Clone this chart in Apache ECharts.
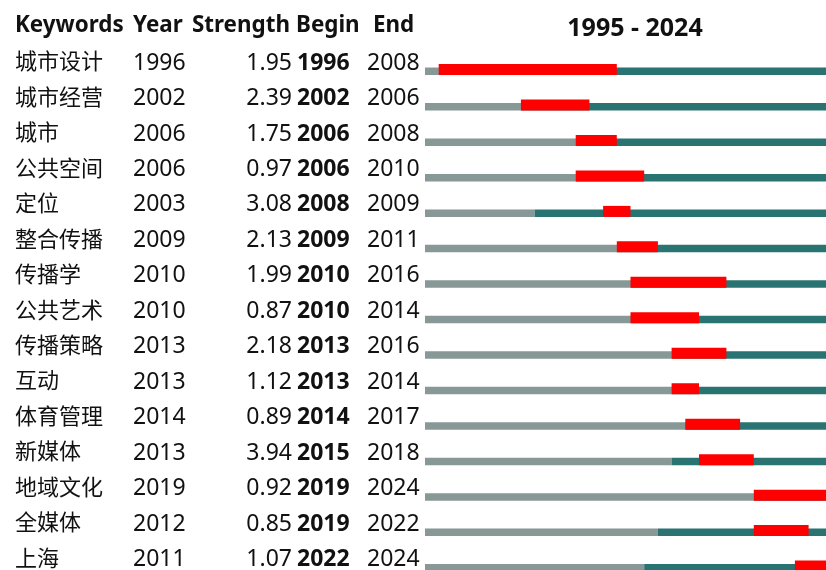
<!DOCTYPE html>
<html>
<head>
<meta charset="utf-8">
<script src="https://cdn.jsdelivr.net/npm/echarts@6/dist/echarts.min.js"></script>
<style>
html,body{margin:0;padding:0;background:#fff;overflow:hidden;}
#c{width:860px;height:600px;}
</style>
</head>
<body>
<div id="c"></div>
<script>
var keywords = ['城市设计','城市经营','城市','公共空间','定位','整合传播','传播学','公共艺术','传播策略','互动','体育管理','新媒体','地域文化','全媒体','上海'];
var years = [1996,2002,2006,2006,2003,2009,2010,2010,2013,2013,2014,2013,2019,2012,2011];
var strength = [1.95,2.39,1.75,0.97,3.08,2.13,1.99,0.87,2.18,1.12,0.89,3.94,0.92,0.85,1.07];
var begins = [1996,2002,2006,2006,2008,2009,2010,2010,2013,2013,2014,2015,2019,2019,2022];
var ends = [2008,2006,2008,2010,2009,2011,2016,2014,2016,2014,2017,2018,2024,2022,2024];
var headers = ['Keywords','Year','Strength','Begin','End'];
var rangeStart = 1995, rangeEnd = 2024;
var title = rangeStart + ' - ' + rangeEnd;

var FONT = '"Noto Sans", "Noto Sans CJK SC", sans-serif';
var TXT = '#111';
var GRAY = '#879896', TEAL = '#2a7373', RED = '#ff0000';

var rows = keywords.map(function (k, i) {
  return [i, years[i], begins[i], ends[i], strength[i]];
});

var chart = echarts.init(document.getElementById('c'), null, {renderer: 'canvas'});

function txt(x, y, s, align, bold, size) {
  return {
    type: 'text',
    style: {
      x: x, y: y, text: s, fill: TXT,
      font: (bold ? 'bold ' : '') + (size || 22) + 'px ' + FONT,
      textAlign: align, textVerticalAlign: 'middle'
    }
  };
}

var hdrFont = 'bold 22.4px ' + FONT;
var option = {
  animation: false,
  backgroundColor: '#fff',
  title: {
    text: title,
    left: 630, top: 11,
    textAlign: 'center',
    textStyle: {fontFamily: FONT, fontSize: 25, fontWeight: 'bold', color: TXT}
  },
  graphic: [
    {type: 'text', left: 15, top: 14, style: {text: headers[0], font: hdrFont, fill: TXT}},
    {type: 'text', left: 133, top: 14, style: {text: headers[1], font: hdrFont, fill: TXT}},
    {type: 'text', left: 192, top: 14, style: {text: headers[2], font: hdrFont, fill: TXT}},
    {type: 'text', left: 296, top: 14, style: {text: headers[3], font: hdrFont, fill: TXT}},
    {type: 'text', left: 373, top: 14, style: {text: headers[4], font: hdrFont, fill: TXT}}
  ],
  grid: {left: 425, top: 45.3, width: 411, height: 532, containLabel: false},
  xAxis: {type: 'value', min: rangeStart, max: rangeEnd + 1, show: false},
  yAxis: {type: 'category', data: keywords, inverse: true, show: false},
  series: [
    {
      type: 'custom',
      clip: false,
      data: rows,
      encode: {x: 1, y: 0},
      renderItem: function (params, api) {
        var i = api.value(0);
        var first = api.value(1), b = api.value(2), e = api.value(3);
        var c = api.coord([rangeStart, i]);
        var yc = c[1];
        var x0 = c[0];
        var xFirst = api.coord([first, i])[0];
        var xEnd = api.coord([rangeEnd + 1, i])[0];
        var xb = api.coord([b, i])[0];
        var xe = api.coord([e + 1, i])[0];
        var bottom = yc + 12;
        return {
          type: 'group',
          children: [
            {type: 'rect', shape: {x: x0, y: bottom - 7.5, width: xFirst - x0, height: 7.5}, style: {fill: GRAY}},
            {type: 'rect', shape: {x: xFirst, y: bottom - 7.5, width: xEnd - xFirst, height: 7.5}, style: {fill: TEAL}},
            {type: 'rect', shape: {x: xb, y: bottom - 11, width: xe - xb, height: 11}, style: {fill: RED}}
          ]
        };
      }
    },
    {
      type: 'custom',
      clip: false,
      data: rows,
      encode: {x: 1, y: 0},
      renderItem: function (params, api) {
        var i = api.value(0);
        var yc = api.coord([rangeStart, i])[1];
        return {
          type: 'group',
          children: [
            txt(15, yc, keywords[i], 'left', false, 22),
            txt(133, yc, String(years[i]), 'left', false, 23),
            txt(292, yc, strength[i].toFixed(2), 'right', false, 23),
            txt(297, yc, String(begins[i]), 'left', true, 23),
            txt(367, yc, String(ends[i]), 'left', false, 23)
          ]
        };
      }
    }
  ]
};
chart.setOption(option);
</script>
</body>
</html>
